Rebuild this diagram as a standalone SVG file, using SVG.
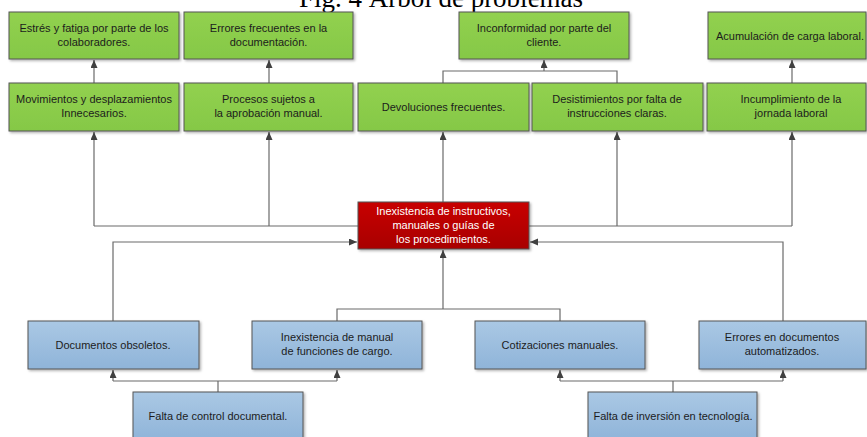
<svg xmlns="http://www.w3.org/2000/svg" width="867" height="437" viewBox="0 0 867 437">
<style>
.t{font-family:"Liberation Sans",Arial,sans-serif;font-size:11px;fill:#1c1c1c;text-anchor:middle}
.w{fill:#ffffff}
.title{font-family:"Liberation Serif","Times New Roman",serif;font-size:27px;fill:#000;text-anchor:middle}
.g{fill:url(#gg);stroke:#555;stroke-width:1}
.b{fill:url(#gb);stroke:#555;stroke-width:1}
.r{fill:url(#gr);stroke:#555;stroke-width:1}
.c{fill:none;stroke:#6a6a6a;stroke-width:1.2}
.a{marker-end:url(#ah)}
</style>
<defs>
<linearGradient id="gg" x1="0" y1="0" x2="0" y2="1"><stop offset="0" stop-color="#92d150"/><stop offset="1" stop-color="#85c846"/></linearGradient>
<linearGradient id="gb" x1="0" y1="0" x2="0" y2="1"><stop offset="0" stop-color="#aac8e4"/><stop offset="1" stop-color="#8fb4d9"/></linearGradient>
<linearGradient id="gr" x1="0" y1="0" x2="0" y2="1"><stop offset="0" stop-color="#c80000"/><stop offset="1" stop-color="#a80000"/></linearGradient>
<filter id="sh" x="-5%" y="-5%" width="115%" height="130%"><feDropShadow dx="1.5" dy="1.5" stdDeviation="0.8" flood-color="#000" flood-opacity="0.3"/></filter>
<marker id="ah" markerUnits="userSpaceOnUse" markerWidth="8" markerHeight="8" refX="8" refY="3.5" orient="auto"><path d="M0,0 L8,3.5 L0,7 z" fill="#404040"/></marker>
</defs>
<text class="title" x="441" y="7">Fig. 4 Árbol de problemas</text>
<g id="connectors">
<path class="c a" d="M94,83 V60"/>
<path class="c a" d="M269,83 V60"/>
<path class="c a" d="M792,83 V60"/>
<path class="c" d="M443,83 V71 H617 V83"/>
<path class="c a" d="M544,71 V60"/>
<path class="c" d="M94,226 H358"/>
<path class="c a" d="M94,226 V132"/>
<path class="c a" d="M269,226 V132"/>
<path class="c a" d="M443,202 V132"/>
<path class="c" d="M529,226 H792"/>
<path class="c a" d="M617,226 V132"/>
<path class="c a" d="M792,226 V132"/>
<path class="c a" d="M113,321 V242 H357"/>
<path class="c a" d="M783,321 V242 H530"/>
<path class="c" d="M337,321 V309 H560 V321"/>
<path class="c a" d="M443,309 V250"/>
<path class="c" d="M218,392 V381"/>
<path class="c" d="M113,381 H337"/>
<path class="c a" d="M113,381 V370"/>
<path class="c a" d="M337,381 V370"/>
<path class="c" d="M673,392 V381"/>
<path class="c" d="M560,381 H783"/>
<path class="c a" d="M560,381 V370"/>
<path class="c a" d="M783,381 V370"/>
</g>
<g id="e1"><rect class="g" filter="url(#sh)" x="9" y="12" width="170" height="47"/><text class="t" x="94" y="31.5">Estrés y fatiga por parte de los</text><text class="t" x="94" y="45.5">colaboradores.</text></g>
<g id="e2"><rect class="g" filter="url(#sh)" x="184" y="12" width="169" height="47"/><text class="t" x="268.5" y="31.5">Errores frecuentes en la</text><text class="t" x="268.5" y="45.5">documentación.</text></g>
<g id="e3"><rect class="g" filter="url(#sh)" x="459" y="12" width="170" height="47"/><text class="t" x="544" y="31.5">Inconformidad por parte del</text><text class="t" x="544" y="45.5">cliente.</text></g>
<g id="e4"><rect class="g" filter="url(#sh)" x="708" y="12" width="158" height="47"/><text class="t" x="790" y="39.5">Acumulación de carga laboral.</text></g>
<g id="c1"><rect class="g" filter="url(#sh)" x="9" y="83" width="170" height="48"/><text class="t" x="94" y="103">Movimientos y desplazamientos</text><text class="t" x="94" y="117">Innecesarios.</text></g>
<g id="c2"><rect class="g" filter="url(#sh)" x="184" y="83" width="169" height="48"/><text class="t" x="268.5" y="103">Procesos sujetos a</text><text class="t" x="268.5" y="117">la aprobación manual.</text></g>
<g id="c3"><rect class="g" filter="url(#sh)" x="358" y="83" width="171" height="48"/><text class="t" x="443.5" y="111">Devoluciones frecuentes.</text></g>
<g id="c4"><rect class="g" filter="url(#sh)" x="532" y="83" width="171" height="48"/><text class="t" x="617" y="103">Desistimientos por falta de</text><text class="t" x="617" y="117">instrucciones claras.</text></g>
<g id="c5"><rect class="g" filter="url(#sh)" x="707" y="83" width="159" height="48"/><text class="t" x="791" y="103">Incumplimiento de la</text><text class="t" x="791" y="117">jornada laboral</text></g>
<g id="core"><rect class="r" filter="url(#sh)" x="358" y="202" width="171" height="47"/><text class="t w" x="443.5" y="215">Inexistencia de instructivos,</text><text class="t w" x="443.5" y="229">manuales o guías de</text><text class="t w" x="443.5" y="243">los procedimientos.</text></g>
<g id="k1"><rect class="b" filter="url(#sh)" x="28" y="321" width="171" height="48"/><text class="t" x="113" y="349">Documentos obsoletos.</text></g>
<g id="k2"><rect class="b" filter="url(#sh)" x="252" y="321" width="170" height="48"/><text class="t" x="337" y="341">Inexistencia de manual</text><text class="t" x="337" y="355">de funciones de cargo.</text></g>
<g id="k3"><rect class="b" filter="url(#sh)" x="475" y="321" width="170" height="48"/><text class="t" x="560" y="349">Cotizaciones manuales.</text></g>
<g id="k4"><rect class="b" filter="url(#sh)" x="699" y="321" width="167" height="48"/><text class="t" x="782" y="341">Errores en documentos</text><text class="t" x="782" y="355">automatizados.</text></g>
<g id="r1"><rect class="b" filter="url(#sh)" x="133" y="392" width="170" height="48"/><text class="t" x="218" y="420">Falta de control documental.</text></g>
<g id="r2"><rect class="b" filter="url(#sh)" x="588" y="392" width="169" height="48"/><text class="t" x="673" y="420">Falta de inversión en tecnología.</text></g>
</svg>
